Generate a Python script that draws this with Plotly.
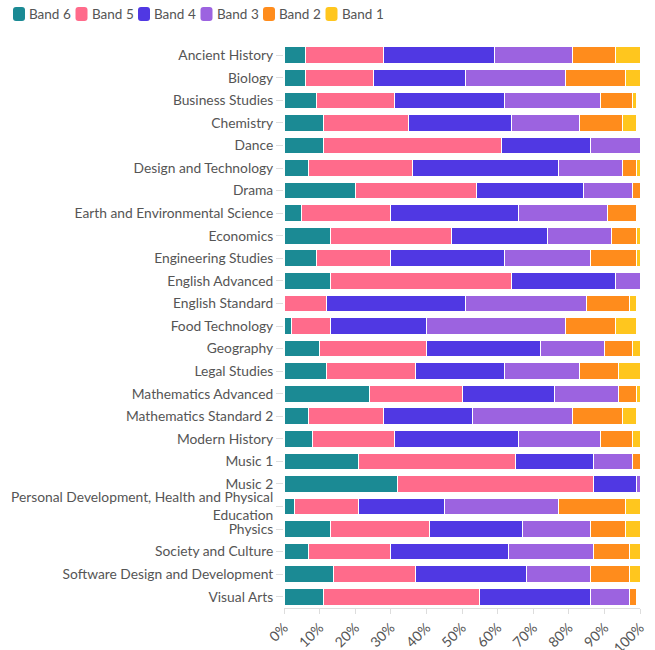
import plotly.graph_objects as go

subjects = [
    "Ancient History", "Biology", "Business Studies", "Chemistry", "Dance",
    "Design and Technology", "Drama", "Earth and Environmental Science", "Economics",
    "Engineering Studies", "English Advanced", "English Standard", "Food Technology",
    "Geography", "Legal Studies", "Mathematics Advanced", "Mathematics Standard 2",
    "Modern History", "Music 1", "Music 2",
    "Personal Development, Health and Physical<br>Education", "Physics",
    "Society and Culture", "Software Design and Development", "Visual Arts",
]

band6 = [6, 6, 9, 11, 11, 7, 20, 5, 13, 9, 13, 0, 2, 10, 12, 24, 7, 8, 21, 32, 3, 13, 7, 14, 11]
band5 = [22, 19, 22, 24, 50, 29, 34, 25, 34, 21, 51, 12, 11, 30, 25, 26, 21, 23, 44, 55, 18, 28, 23, 23, 44]
band4 = [31, 26, 31, 29, 25, 41, 30, 36, 27, 32, 29, 39, 27, 32, 25, 26, 25, 35, 22, 12, 24, 26, 33, 31, 31]
band3 = [22, 28, 27, 19, 14, 18, 14, 25, 18, 24, 7, 34, 39, 18, 21, 18, 28, 23, 11, 1, 32, 19, 24, 18, 11]
band2 = [12, 17, 9, 12, 0, 4, 2, 8, 7, 13, 0, 12, 14, 8, 11, 5, 14, 9, 2, 0, 19, 10, 10, 11, 2]
band1 = [7, 4, 1, 4, 0, 1, 0, 0, 1, 1, 0, 2, 6, 2, 6, 1, 4, 2, 0, 0, 4, 4, 3, 3, 0]

band_names = ["Band 6", "Band 5", "Band 4", "Band 3", "Band 2", "Band 1"]
band_values = [band6, band5, band4, band3, band2, band1]
band_colors = ["#1b8a94", "#ff6b8b", "#5038e3", "#9c63e0", "#ff8c1c", "#ffc61e"]

tick_vals = [0, 10, 20, 30, 40, 50, 60, 70, 80, 90, 100]
tick_text = ["0%", "10%", "20%", "30%", "40%", "50%", "60%", "70%", "80%", "90%", "100%"]

W, H = 655, 650
ML, MR, MT, MB = 284, 15, 44, 42
PW, PH = W - ML - MR, H - MT - MB

fig = go.Figure()
for name, vals, color in zip(band_names, band_values, band_colors):
    fig.add_trace(go.Bar(
        y=subjects, x=vals, name=name, orientation="h", showlegend=False,
        marker=dict(color=color, line=dict(color="white", width=1)),
    ))

def px_x(p):
    return (p - ML) / PW

def px_y(p):
    return (H - MB - p) / PH

# manual legend (rounded swatches + labels)
legend_x0 = 13
legend_step = 62.5
shapes = []
annotations = []
for i, (name, color) in enumerate(zip(band_names, band_colors)):
    x0 = legend_x0 + i * legend_step
    x1 = x0 + 12
    y0, y1 = 7, 21
    r = 3
    path = (
        f"M {px_x(x0 + r)} {px_y(y0)} L {px_x(x1 - r)} {px_y(y0)} "
        f"Q {px_x(x1)} {px_y(y0)} {px_x(x1)} {px_y(y0 + r)} "
        f"L {px_x(x1)} {px_y(y1 - r)} Q {px_x(x1)} {px_y(y1)} {px_x(x1 - r)} {px_y(y1)} "
        f"L {px_x(x0 + r)} {px_y(y1)} Q {px_x(x0)} {px_y(y1)} {px_x(x0)} {px_y(y1 - r)} "
        f"L {px_x(x0)} {px_y(y0 + r)} Q {px_x(x0)} {px_y(y0)} {px_x(x0 + r)} {px_y(y0)} Z"
    )
    shapes.append(dict(type="path", xref="paper", yref="paper", path=path,
                       fillcolor=color, line=dict(width=0)))
    annotations.append(dict(
        xref="paper", yref="paper", x=px_x(x1 + 2), y=px_y(14),
        xanchor="left", yanchor="middle", text=name, showarrow=False,
        font=dict(size=13.5, color="#555555"),
    ))

font_family = "Lato, Noto Sans, sans-serif"
fig.update_layout(
    barmode="stack",
    bargap=0.26,
    width=W, height=H,
    margin=dict(l=ML, r=MR, t=MT, b=MB, autoexpand=False),
    paper_bgcolor="white", plot_bgcolor="white",
    font=dict(family=font_family, size=14, color="#555555"),
    showlegend=False,
    shapes=shapes,
    annotations=annotations,
    xaxis=dict(
        range=[0, 100], tickvals=tick_vals, ticktext=tick_text, tickangle=-45,
        showgrid=False, showline=True, linecolor="#dddddd", ticks="outside",
        tickcolor="#dddddd", ticklen=5, zeroline=False, automargin=False,
        tickfont=dict(size=14, color="#555555"),
    ),
    yaxis=dict(
        autorange="reversed", showgrid=False, ticks="outside", tickcolor="#dddddd",
        ticklen=7, showline=False, automargin=False,
        tickfont=dict(size=13.8, color="#555555"),
    ),
)

fig.write_html(
    "out.html",
    config={"displayModeBar": False},
    post_script="document.body.style.margin='0px';document.body.style.overflow='hidden';",
)
